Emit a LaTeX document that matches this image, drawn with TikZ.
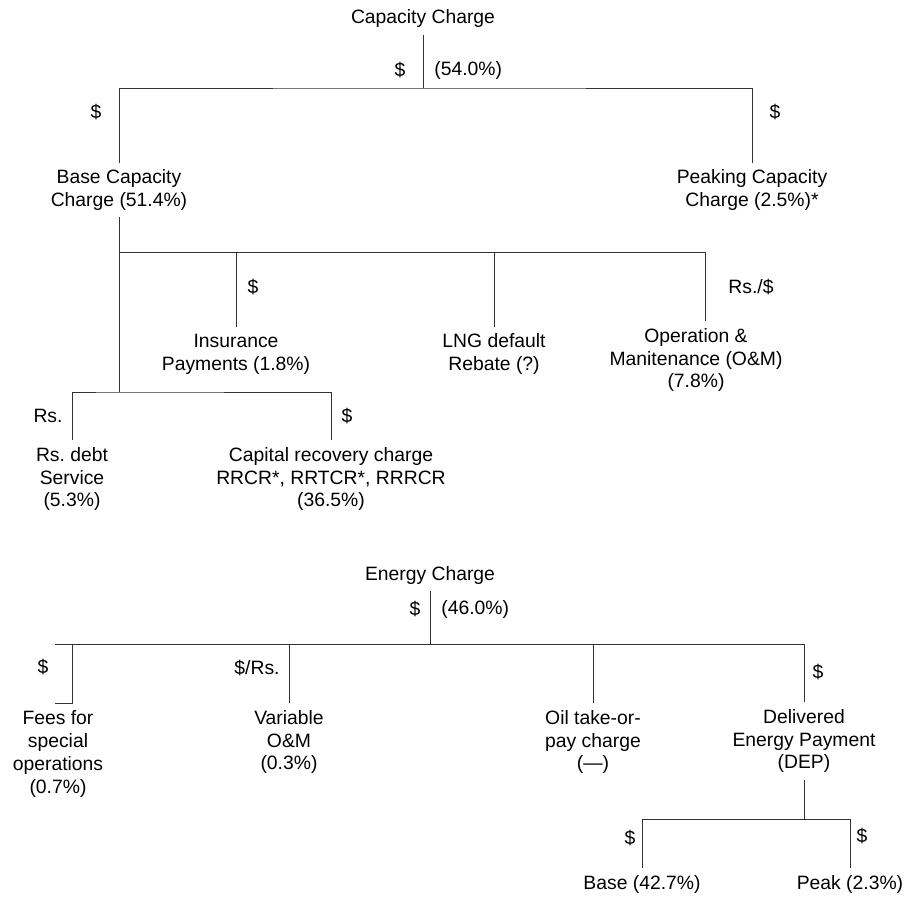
\documentclass[tikz,border=0pt]{standalone}
\usepackage{fontspec}
\setmainfont{Liberation Sans}
\usetikzlibrary{positioning,calc}

\begin{document}
\begin{tikzpicture}[x=0.02cm, y=-0.02cm,
      every node/.style={font=\fontsize{11}{13}\selectfont, inner sep=0pt},
      item/.style={align=center, outer sep=4pt},
      unit/.style={anchor=center},
      link/.style={draw=black!80, line width=0.55pt}]
  %.
  \useasboundingbox (0,0) rectangle (908,896);
  %. capacity charge
  \node[item] (cap) at (423,19) {Capacity Charge};
  \node[unit] (capunit) at (400,70) {\$};
  \node[anchor=west] (capshare) at (434,70) {(54.0\%)};
  \coordinate (capbus) at (423,88);
  \node[item] (basecap) at (119,190) {Base Capacity\\Charge (51.4\%)};
  \node[item] (peakcap) at (752,190) {Peaking Capacity\\Charge (2.5\%)*};
  \node[unit] (baseunit) at (96,112) {\$};
  \node[unit] (peakunit) at (775,112) {\$};
  \draw[link] (cap) -- (capbus);
  \draw[link] (basecap.north) |- (capbus) -| (peakcap.north);
  %. base capacity parts
  \coordinate (basebus) at (119,252);
  \coordinate (rsbus) at (119,392);
  \node[item] (ins) at (236,354) {Insurance\\Payments (1.8\%)};
  \node[item] (lng) at (494,354) {LNG default\\Rebate (?)};
  \node[item] (om) at (696,360) {Operation \&\\Manitenance (O\&M)\\(7.8\%)};
  \node[unit] (insunit) at (253,287) {\$};
  \node[unit] (omunit) at (751,287) {Rs./\$};
  \draw[link] (basecap) -- (rsbus);
  \draw[link] (basebus) -| (ins.north);
  \draw[link] (basebus) -| (lng.north);
  \draw[link] (basebus) -| ($(om.north)+(9,0)$);
  %. capital parts
  \node[item] (debt) at (72,479) {Rs.\ debt\\Service\\(5.3\%)};
  \node[item] (crc) at (331,479) {Capital recovery charge\\RRCR*, RRTCR*, RRRCR\\(36.5\%)};
  \node[unit] (debtunit) at (48,416) {Rs.};
  \node[unit] (crcunit) at (347,416) {\$};
  \draw[link] (debt.north) |- (rsbus) -| (crc.north);
  %. energy charge
  \node[item] (en) at (430,575) {Energy Charge};
  \node[unit] (enunit) at (415,609) {\$};
  \node[anchor=west] (enshare) at (441,609) {(46.0\%)};
  \coordinate (enbus) at (430,644);
  \coordinate (enleft) at (55,644);
  \coordinate (feestop) at (72,644);
  \coordinate (feesfoot) at (55,703);
  \node[item] (fees) at (58,754) {Fees for\\special\\operations\\(0.7\%)};
  \node[item] (var) at (289,742) {Variable\\O\&M\\(0.3\%)};
  \node[item] (oil) at (593,742) {Oil take-or-\\pay charge\\(—)};
  \node[item] (dep) at (804,741) {Delivered\\Energy Payment\\(DEP)};
  \node[unit] (feesunit) at (43,667) {\$};
  \node[unit] (varunit) at (257,668) {\$/Rs.};
  \node[unit] (depunit) at (818,672) {\$};
  \draw[link] (en) -- (enbus);
  \draw[link] (enleft) -- (enbus) -| (dep.north);
  \draw[link] (feestop) |- (feesfoot);
  \draw[link] (enbus) -| (var.north);
  \draw[link] (enbus) -| (oil.north);
  %. delivered energy parts
  \coordinate (depbus) at (804,819);
  \node[item] (base) at (642,884) {Base (42.7\%)};
  \node[item] (peak) at (850,884) {Peak (2.3\%)};
  \node[unit] (bunit) at (630,838) {\$};
  \node[unit] (punit) at (862,836) {\$};
  \draw[link] (dep) -- (depbus);
  \draw[link] (base.north) |- (depbus) -| (peak.north);
  %.
\end{tikzpicture}
\end{document}
